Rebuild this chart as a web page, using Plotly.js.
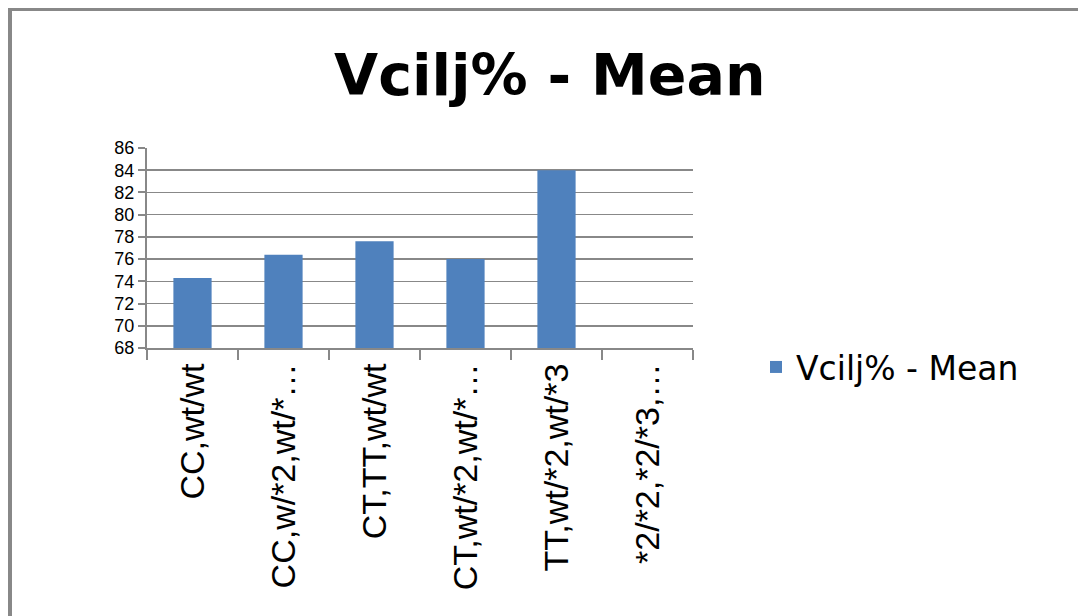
<!DOCTYPE html>
<html>
<head>
<meta charset="utf-8">
<script src="https://cdn.plot.ly/plotly-3.0.1.min.js"></script>
<style>html,body{margin:0;padding:0;background:#fff;}#chart{width:1078px;height:616px;}</style>
</head>
<body>
<div id="chart"></div>
<script>
// Data
const categories = ["CC,wt/wt", "CC,w/*2,wt/*…", "CT,TT,wt/wt", "CT,wt/*2,wt/*…", "TT,wt/*2,wt/*3", "*2/*2,*2/*3,…"];
const meanValues = [74.3, 76.4, 77.6, 76.0, 84.0, null];
const yTicks = [68, 70, 72, 74, 76, 78, 80, 82, 84, 86];
const seriesName = "Vcilj% - Mean";
const chartTitle = "Vcilj% - Mean";

// Plot area in pixels (used only to place the frame lines)
const W = 1078, H = 616;
const L = 147, R = 693, T = 148, B = 348;
const px = x => (x - L) / (R - L);
const py = y => (B - y) / (B - T);

const trace = {
  type: "bar",
  x: categories,
  y: meanValues,
  name: seriesName,
  marker: {color: "#4F81BD"},
  showlegend: true
};

const layout = {
  width: W, height: H,
  margin: {l: L, r: W - R, t: T, b: H - B, pad: 0},
  paper_bgcolor: "#fff",
  plot_bgcolor: "#fff",
  bargap: 0.58,
  title: {
    text: "<b>" + chartTitle + "</b>",
    font: {family: "DejaVu Sans", size: 57, color: "#000"},
    x: 0.51, xanchor: "center",
    y: 1 - 75 / H, yanchor: "middle"
  },
  xaxis: {
    type: "category",
    tickangle: -90,
    tickson: "boundaries",
    ticks: "outside", ticklen: 10, tickwidth: 2, tickcolor: "#888",
    showline: true, linecolor: "#888", linewidth: 2,
    showgrid: false,
    tickfont: {family: "Liberation Sans", size: 34, color: "#000"},
    automargin: false
  },
  yaxis: {
    range: [68, 86],
    tickvals: yTicks,
    ticktext: yTicks.map(String),
    ticks: "outside", ticklen: 7, tickwidth: 2, tickcolor: "#888",
    showline: true, linecolor: "#888", linewidth: 2,
    showgrid: true, gridcolor: "#888", gridwidth: 1.5,
    zeroline: false,
    tickfont: {family: "Liberation Sans", size: 18, color: "#000"},
    automargin: false
  },
  legend: {
    x: px(756), xanchor: "left",
    y: py(367), yanchor: "middle",
    font: {family: "DejaVu Sans", size: 33, color: "#000"},
    bgcolor: "rgba(0,0,0,0)",
    itemwidth: 30
  },
  shapes: [
    {type: "line", xref: "paper", yref: "paper", x0: px(8), x1: px(W), y0: py(9.5), y1: py(9.5), line: {color: "#888", width: 3}},
    {type: "line", xref: "paper", yref: "paper", x0: px(10), x1: px(10), y0: py(9.5), y1: py(H), line: {color: "#888", width: 4}}
  ]
};

Plotly.newPlot("chart", [trace], layout, {displayModeBar: false, staticPlot: true});
</script>
</body>
</html>
